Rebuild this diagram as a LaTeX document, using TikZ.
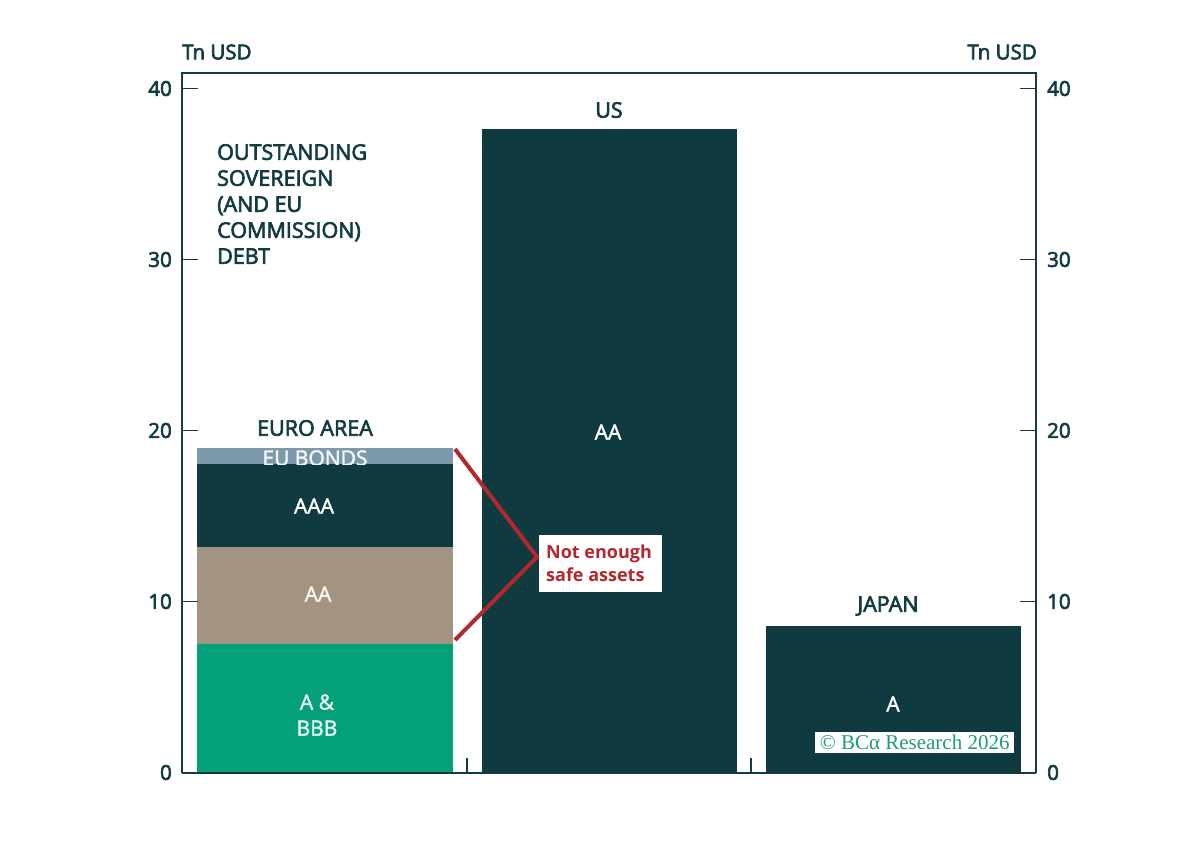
\documentclass[tikz,border=0pt]{standalone}
\usepackage{fontspec}
\setmainfont{Open Sans}
\newfontfamily\sbf{Open Sans}[FakeBold=3]
\newfontfamily\mbf{Open Sans}[FakeBold=2]
\newfontfamily\ser{Liberation Serif}
\definecolor{dark}{HTML}{0E3A40}
\definecolor{txt}{HTML}{123C41}
\definecolor{tan}{HTML}{A39482}
\definecolor{grn}{HTML}{03A07A}
\definecolor{eub}{HTML}{7C9AAC}
\definecolor{redc}{HTML}{B3282D}
\definecolor{copy}{HTML}{1E9B78}
\tikzset{
  frame/.style={draw=txt, line width=1.6pt},
  tick/.style={draw=txt, line width=1.6pt},
  ylab/.style={font=\sbf\fontsize{20.5}{24}\selectfont, text=txt, inner sep=0pt},
  dlab/.style={font=\sbf\fontsize{21.5}{24}\selectfont, text=txt, inner sep=0pt, align=center},
  wlab/.style={font=\mbf\fontsize{21}{26}\selectfont, text=white, inner sep=0pt, align=center},
}
\begin{document}
\begin{tikzpicture}[x=1pt,y=-1pt]
\useasboundingbox[fill=white] (0,0) rectangle (1200,862);
% bars
\fill[grn] (197,644) rectangle (453,773);
\fill[tan] (197,547) rectangle (453,644);
\fill[dark] (197,464) rectangle (453,547);
\fill[eub] (197,448) rectangle (453,464);
\fill[dark] (482,129) rectangle (737,773);
\fill[dark] (766,626) rectangle (1021,773);
% frame
\draw[frame] (182,773) -- (182,73) -- (1036,73) -- (1036,773);
\draw[txt, line width=2.2pt] (182,773) -- (1036,773);
\draw[tick] (467,773) -- (467,758);
\draw[tick] (751,773) -- (751,758);
% y ticks and labels
\foreach \v/\yy in {40/88.5,30/259.5,20/430.5,10/601.5,0/772.5}{
  \draw[tick] (182,\yy) -- (198,\yy);
  \draw[tick] (1020,\yy) -- (1036,\yy);
  \node[ylab, anchor=east] (l\v) at (172,\yy) {\v};
  \node[ylab, anchor=west] (r\v) at (1047,\yy) {\v};
}
\node[ylab, anchor=west] (unitl) at (182,52) {Tn USD};
\node[ylab, anchor=east] (unitr) at (1037,52) {Tn USD};
% title
\node[dlab, anchor=north west, align=left, font=\sbf\fontsize{21.5}{26}\selectfont] (title) at (217,144)
  {OUTSTANDING\\SOVEREIGN\\(AND EU\\COMMISSION)\\DEBT};
% bar labels
\node[dlab] (us) at (609,110) {US};
\node[dlab] (euro) at (315,428) {EURO AREA};
\node[dlab] (japan) at (888,606) {JAPAN};
\begin{scope}
\clip (197,448) rectangle (453,464);
\node[wlab, text=white!92!eub] (eubonds) at (315,458) {EU BONDS};
\end{scope}
\node[wlab] (aaa) at (314,506) {AAA};
\node[wlab, text=white!90!tan] (aa1) at (318,594) {AA};
\node[wlab, text=white!90!grn] (abbb) at (317,715) {A \&\\BBB};
\node[wlab] (aa2) at (608,432) {AA};
\node[wlab] (a) at (893,704) {A};
% annotation
\node[fill=white, draw=none, minimum width=123pt, minimum height=57pt, inner sep=0pt] (note) at (600.5,563.5) {};
\node[font=\bfseries\fontsize{18}{23}\selectfont, text=redc, align=left, anchor=west, inner sep=0pt] (notetxt) at (546,563.5) {Not enough\\safe assets};
\coordinate (b1) at (455,449);
\coordinate (apex) at (537,557);
\coordinate (b2) at (455,640);
\draw[redc, line width=4pt, line join=miter] (b1) -- (apex) -- (b2);
% copyright
\node[fill=white, inner sep=0pt, minimum width=199pt, minimum height=21pt, anchor=west] (cbox) at (815,742.5) {};
\node[font=\ser\fontsize{21}{22}\selectfont, text=copy, inner sep=0pt] (ctext) at (cbox.center) {\textcopyright\ BCα Research 2026};
\end{tikzpicture}
\end{document}
